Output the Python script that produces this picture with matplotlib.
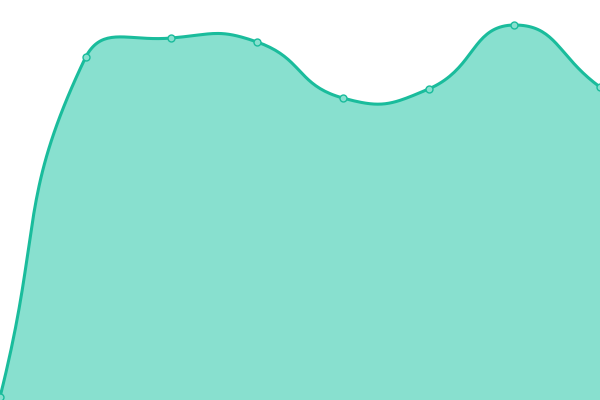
import numpy as np
import matplotlib
matplotlib.use('Agg')
import matplotlib.pyplot as plt

# values (axis 0..400, bottom to top)
categories = ['0', '1', '2', '3', '4', '5', '6', '7']
values = [3, 343, 362, 358, 302, 311, 375, 313]

lineColor = '#1abc9c'
fillColor = '#88e0cf'
smooth = 0.5

def smoothPath(pts, smooth):
	# bezier control points like echarts' smoothed line, clamped to the bounding box
	n = len(pts)
	lo = pts.min(axis=0)
	hi = pts.max(axis=0)
	cpsAfter = []
	cpsBefore = []
	for i in range(n):
		p = pts[i]
		prev = pts[max(i - 1, 0)]
		nxt = pts[min(i + 1, n - 1)]
		v = nxt - prev
		lenPrev = np.hypot(*(p - prev))
		lenNext = np.hypot(*(nxt - p))
		ratio = lenNext / (lenNext + lenPrev) if lenNext + lenPrev > 0 else 0.5
		after = np.clip(p + v * smooth * ratio, lo, hi)
		before = np.clip(p - v * smooth * (1 - ratio), lo, hi)
		cpsAfter.append(after)
		cpsBefore.append(before)
	t = np.linspace(0, 1, 40)[:, None]
	out = [pts[:1]]
	for i in range(n - 1):
		p0, p1, p2, p3 = pts[i], cpsAfter[i], cpsBefore[i + 1], pts[i + 1]
		seg = (1 - t)**3 * p0 + 3 * (1 - t)**2 * t * p1 + 3 * (1 - t) * t**2 * p2 + t**3 * p3
		out.append(seg[1:])
	return np.vstack(out)

fig = plt.figure(figsize=(6, 4), dpi=100)
ax = fig.add_axes([0, 0, 1, 1])
ax.set_xlim(0, len(categories) - 1)
ax.set_ylim(0, 400)
ax.axis('off')

x = np.arange(len(categories))
pix = ax.transData.transform(np.column_stack([x, values]))
curve = ax.transData.inverted().transform(smoothPath(pix, smooth))

ax.fill_between(curve[:, 0], curve[:, 1], 0, color=fillColor, lw=0)
ax.plot(curve[:, 0], curve[:, 1], color=lineColor, lw=2.2, solid_capstyle='round')
ax.plot(x, values, 'o', ms=5, mfc=fillColor, mec=lineColor, mew=1)

fig.savefig('out.png', dpi=100)
